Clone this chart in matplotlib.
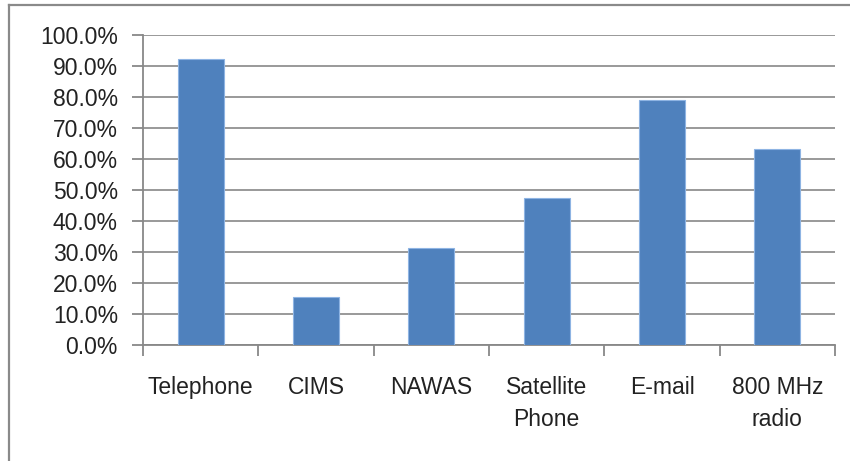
import matplotlib.pyplot as plt
import numpy as np
from matplotlib.lines import Line2D

# Données
categories = ["Telephone", "CIMS", "NAWAS", "Satellite\nPhone", "E-mail", "800 MHz\nradio"]
valeurs = [92.1, 15.4, 31.3, 47.4, 78.9, 63.2]
yticks = np.arange(0, 101, 10)

plt.rcParams['font.family'] = ['Liberation Sans', 'DejaVu Sans']

fig = plt.figure(figsize=(8.5, 4.61), dpi=100)
ax = fig.add_axes([0.1682, 0.2527, 0.8142, 0.6713])

x = np.arange(len(categories))
ax.bar(x, valeurs, width=0.4, color="#4F81BD", edgecolor="#8EB4E3", linewidth=0.8, zorder=3)

ax.set_xlim(-0.5, len(categories) - 0.5)
ax.set_ylim(0, 100)
ax.set_yticks(yticks)
ax.set_yticklabels([f"{v:.1f}%" for v in yticks], fontsize=16.5, color="#222222")
ax.set_xticks(x)
ax.set_xticklabels(categories, fontsize=16.5, color="#222222", linespacing=1.45)
ax.set_xticks(np.arange(-0.5, len(categories)), minor=True)

ax.tick_params(axis='x', which='major', length=0, pad=23)
ax.tick_params(axis='x', which='minor', length=8, width=1.3, color="#888888")
ax.tick_params(axis='y', length=8, width=1.3, color="#888888", pad=10)

ax.yaxis.grid(True, color="#999999", linewidth=1.4, zorder=0)
ax.set_axisbelow(True)
for s in ['top', 'right']:
    ax.spines[s].set_visible(False)
for s in ['left', 'bottom']:
    ax.spines[s].set_color("#888888")
    ax.spines[s].set_linewidth(1.3)

# cadre du graphique
fig.add_artist(Line2D([9/850, 1], [1 - 5.5/461] * 2, color="#8a8a8a", linewidth=1.6, transform=fig.transFigure))
fig.add_artist(Line2D([9/850] * 2, [0, 1 - 5.5/461], color="#8a8a8a", linewidth=1.6, transform=fig.transFigure))

fig.savefig("out.png", dpi=100)
